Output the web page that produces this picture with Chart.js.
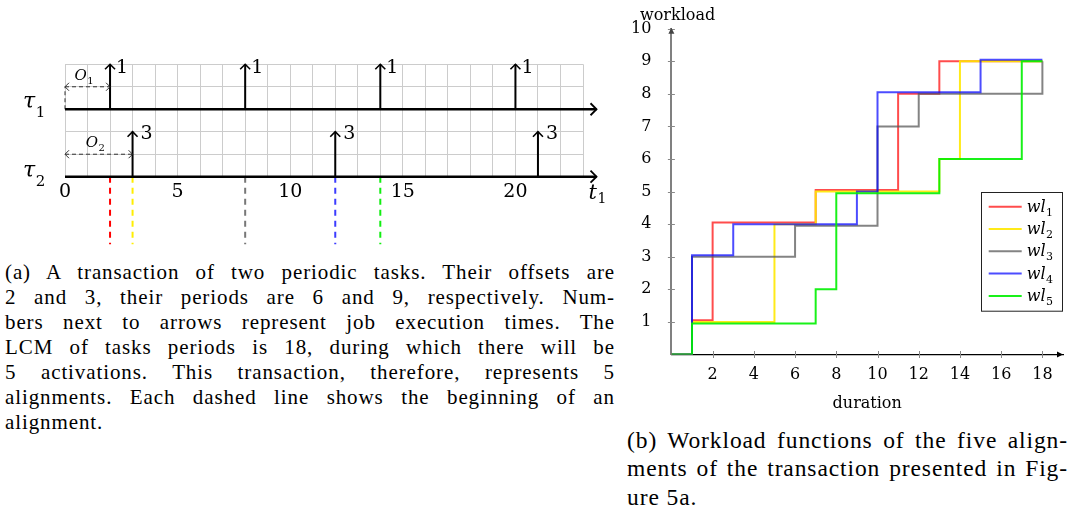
<!DOCTYPE html>
<html>
<head>
<meta charset="utf-8">
<script src="https://cdn.jsdelivr.net/npm/chart.js@4.4.0/dist/chart.umd.min.js"></script>
<style>
  html, body { margin: 0; padding: 0; background: #fff; }
  body { width: 1073px; height: 516px; position: relative; overflow: hidden; font-family: "Liberation Serif", serif; color: #000; }
  #taskCanvas { position: absolute; left: 0; top: 0; }
  #wlCanvas { position: absolute; left: 625px; top: 0; }
  .cap { position: absolute; letter-spacing: 0.9px; }
  .cap div { text-align: justify; text-align-last: justify; }
  .cap div.last { text-align-last: left; }
  #capA { left: 5px; top: 259.5px; width: 610px; font-size: 21px; line-height: 25px; }
  #capB { left: 627px; top: 425.5px; width: 441px; font-size: 23.5px; line-height: 28.5px; }
</style>
</head>
<body>
<canvas id="taskCanvas" width="625" height="255"></canvas>
<canvas id="wlCanvas" width="448" height="416"></canvas>

<div class="cap" id="capA">
  <div>(a) A transaction of two periodic tasks. Their offsets are</div>
  <div>2 and 3, their periods are 6 and 9, respectively. Num-</div>
  <div>bers next to arrows represent job execution times. The</div>
  <div>LCM of tasks periods is 18, during which there will be</div>
  <div>5 activations. This transaction, therefore, represents 5</div>
  <div>alignments. Each dashed line shows the beginning of an</div>
  <div class="last">alignment.</div>
</div>
<div class="cap" id="capB">
  <div>(b) Workload functions of the five align-</div>
  <div>ments of the transaction presented in Fig-</div>
  <div class="last">ure 5a.</div>
</div>

<script>
// ---- (a) the transaction ----
var tau1Release = [2, 8, 14, 20];
var tau1Exec = [1, 1, 1, 1];
var tau2Release = [3, 12, 21];
var tau2Exec = [3, 3, 3];
var taskOffsets = [2, 3];
var alignStart = [2, 3, 8, 12, 14];
var timeTicks = [0, 5, 10, 15, 20];

// ---- (b) workload step functions (x = where the step happens, y = new level) ----
var wl1X = [0, 1, 2, 7, 11, 13, 18];
var wl1Y = [0, 1.05, 4.05, 5.05, 8, 9, 9];
var wl2X = [0, 1, 5, 7, 13, 14, 18];
var wl2Y = [0, 1, 4, 5, 6, 9, 9];
var wl3X = [0, 1, 6, 10, 12, 18, 18];
var wl3Y = [0, 3, 3.95, 7, 8, 8, 9];
var wl4X = [0, 1, 3, 9, 10, 15, 18];
var wl4Y = [0, 3.05, 4, 5, 8.05, 9.05, 9.05];
var wl5X = [0, 1, 7, 8, 13, 17, 18];
var wl5Y = [0, 0.95, 2, 4.95, 6, 9, 9];
var wlSub = ['1', '2', '3', '4', '5'];
var durTicks = [2, 4, 6, 8, 10, 12, 14, 16, 18];
var loadTicks = [1, 2, 3, 4, 5, 6, 7, 8, 9, 10];

var SERIF = '"DejaVu Serif", serif';
var alignColors = ['#ff0000', '#ffee00', '#777777', '#3c3cff', '#11ee11'];
var wlColors = ['rgba(255,0,0,0.7)', 'rgba(255,232,0,0.9)', 'rgba(90,90,90,0.75)', 'rgba(0,0,255,0.7)', 'rgba(0,240,0,0.9)'];

// layout of the diagram, in axis units
var ROW1 = 3, ROW2 = 0, JOB_H = 2, AXIS_END = 23.6, ALIGN_END = -3;
var OFF_ROW = [4, 1];

function segments(list) {
  var out = [];
  list.forEach(function (p) {
    out.push({ x: p[0], y: p[1] }, { x: p[2], y: p[3] }, { x: null, y: null });
  });
  return out;
}

function chevron(ctx, x, y, dir, s) {
  ctx.beginPath();
  if (dir === 'up') { ctx.moveTo(x - s, y + s); ctx.lineTo(x, y); ctx.lineTo(x + s, y + s); }
  else if (dir === 'right') { ctx.moveTo(x - s, y - s); ctx.lineTo(x, y); ctx.lineTo(x - s, y + s); }
  else { ctx.moveTo(x + s, y - s); ctx.lineTo(x, y); ctx.lineTo(x + s, y + s); }
  ctx.stroke();
}

function subText(ctx, main, sub, x, y, size, drop) {
  ctx.font = 'italic ' + size + 'px ' + SERIF;
  ctx.fillText(main, x, y);
  var w = ctx.measureText(main).width;
  ctx.font = Math.round(size * 0.68) + 'px ' + SERIF;
  ctx.fillText(sub, x + w + 0.5, y + (drop == null ? size * 0.22 : drop));
}

var taskDecor = {
  id: 'taskDecor',
  afterDatasetsDraw: function (chart) {
    var ctx = chart.ctx, xs = chart.scales.x, ys = chart.scales.y;
    function px(v) { return xs.getPixelForValue(v); }
    function py(v) { return ys.getPixelForValue(v); }
    ctx.save();
    ctx.strokeStyle = '#000';
    ctx.fillStyle = '#000';
    ctx.lineWidth = 1.8;
    chevron(ctx, px(AXIS_END), py(ROW1), 'right', 6);
    chevron(ctx, px(AXIS_END), py(ROW2), 'right', 6);
    ctx.lineWidth = 1.6;
    tau1Release.forEach(function (t) { chevron(ctx, px(t), py(ROW1 + JOB_H), 'up', 5); });
    tau2Release.forEach(function (t) { chevron(ctx, px(t), py(ROW2 + JOB_H), 'up', 5); });
    ctx.lineWidth = 1;
    ctx.strokeStyle = '#333';
    taskOffsets.forEach(function (o, i) {
      chevron(ctx, px(0), py(OFF_ROW[i]), 'left', 4);
      chevron(ctx, px(o), py(OFF_ROW[i]), 'right', 4);
    });

    ctx.textAlign = 'left';
    ctx.textBaseline = 'alphabetic';
    ctx.font = '19px ' + SERIF;
    tau1Release.forEach(function (t, i) { ctx.fillText(String(tau1Exec[i]), px(t) + 6, py(ROW1 + JOB_H) + 8.5); });
    tau2Release.forEach(function (t, i) { ctx.fillText(String(tau2Exec[i]), px(t) + 8, py(ROW2 + JOB_H) + 7.5); });

    taskOffsets.forEach(function (o, i) {
      subText(ctx, 'O', String(i + 1), px(o / 2) - 13, py(OFF_ROW[i]) - 7, 15, 4);
    });

    subText(ctx, '\u03c4', '1', 23, py(ROW1) - 1, 22, 9);
    subText(ctx, '\u03c4', '2', 23, py(ROW2), 22, 9);
    subText(ctx, 't', '1', px(AXIS_END) - 8, py(ROW2) + 22, 21, 4);
    ctx.restore();
  }
};

function steps(xs, ys) { return xs.map(function (x, i) { return { x: x, y: ys[i] }; }); }

var wlDecor = {
  id: 'wlDecor',
  beforeDatasetsDraw: function (chart) {
    var ctx = chart.ctx, xs = chart.scales.x, ys = chart.scales.y;
    var x0 = xs.getPixelForValue(0), y0 = ys.getPixelForValue(0);
    ctx.save();
    ctx.strokeStyle = '#888';
    ctx.lineWidth = 1;
    loadTicks.forEach(function (v) {
      var y = Math.round(ys.getPixelForValue(v)) + 0.5;
      ctx.beginPath(); ctx.moveTo(x0 - 3.5, y); ctx.lineTo(x0 + 3.5, y); ctx.stroke();
    });
    durTicks.forEach(function (v) {
      var x = Math.round(xs.getPixelForValue(v)) + 0.5;
      ctx.beginPath(); ctx.moveTo(x, y0 - 3.5); ctx.lineTo(x, y0 + 3.5); ctx.stroke();
    });
    ctx.restore();
  },
  afterDraw: function (chart) {
    var ctx = chart.ctx, xs = chart.scales.x, ys = chart.scales.y, ca = chart.chartArea;
    var x0 = xs.getPixelForValue(0), y0 = ys.getPixelForValue(0);
    ctx.save();
    // arrow heads
    ctx.fillStyle = '#444';
    var ty = ys.getPixelForValue(10) - 1;
    ctx.beginPath(); ctx.moveTo(x0, ty); ctx.lineTo(x0 - 3, ty + 6); ctx.lineTo(x0 + 3, ty + 6); ctx.closePath(); ctx.fill();
    ctx.fillStyle = '#000';
    var tx = xs.getPixelForValue(19);
    ctx.beginPath(); ctx.moveTo(tx, y0); ctx.lineTo(tx - 6, y0 - 3); ctx.lineTo(tx - 6, y0 + 3); ctx.closePath(); ctx.fill();

    ctx.fillStyle = '#000';
    ctx.textAlign = 'left';
    ctx.textBaseline = 'alphabetic';
    ctx.font = '16px ' + SERIF;
    ctx.fillText('workload', 15, 19.5);

    // legend
    var bx = ca.right - 82.3, by = ca.top + 163.6, bw = 81, bh = 118.7;
    ctx.fillStyle = '#fff';
    ctx.fillRect(bx, by, bw, bh);
    ctx.strokeStyle = '#222';
    ctx.lineWidth = 1;
    ctx.strokeRect(Math.round(bx) + 0.5, Math.round(by) + 0.5, bw, bh);
    chart.data.datasets.forEach(function (d, i) {
      var ry = by + 14.4 + 22.3 * i;
      ctx.strokeStyle = d.borderColor;
      ctx.lineWidth = 2;
      ctx.beginPath(); ctx.moveTo(bx + 8, ry); ctx.lineTo(bx + 41, ry); ctx.stroke();
      ctx.fillStyle = '#000';
      subText(ctx, 'wl', wlSub[i], bx + 46, ry + 5, 16, 4);
    });
    ctx.restore();
  }
};

function build() {
  new Chart(document.getElementById('taskCanvas'), {
    type: 'line',
    data: {
      datasets: [
        { data: segments([[0, ROW1, AXIS_END, ROW1], [0, ROW2, AXIS_END, ROW2]]), borderColor: '#000', borderWidth: 2.4 },
        { data: segments(tau1Release.map(function (t) { return [t, ROW1, t, ROW1 + JOB_H]; })
            .concat(tau2Release.map(function (t) { return [t, ROW2, t, ROW2 + JOB_H]; }))), borderColor: '#000', borderWidth: 2 },
        { data: segments([[0, OFF_ROW[0], taskOffsets[0], OFF_ROW[0]], [0, OFF_ROW[1], taskOffsets[1], OFF_ROW[1]], [0, ROW1, 0, OFF_ROW[0]]]),
          borderColor: '#333', borderWidth: 1, borderDash: [4, 3] }
      ].concat(alignStart.map(function (t, i) {
        return { data: segments([[t, ROW2, t, ALIGN_END]]), borderColor: alignColors[i], borderWidth: 2, borderDash: [6, 5] };
      })).map(function (d) {
        d.pointRadius = 0; d.clip = false; d.tension = 0; d.spanGaps = false;
        return d;
      })
    },
    options: {
      responsive: false, animation: false, events: [],
      layout: { padding: { top: 64.3, right: 42, left: 0, bottom: 0 } },
      plugins: { legend: { display: false }, tooltip: { enabled: false } },
      scales: {
        x: {
          type: 'linear', min: 0, max: 23,
          afterFit: function (s) { s.height = 78.3; },
          ticks: { stepSize: 1, autoSkip: false, maxRotation: 0, padding: 4.4, color: '#000',
            font: { family: SERIF, size: 19 },
            callback: function (v) { return timeTicks.indexOf(v) >= 0 ? String(v) : ''; } },
          grid: { color: '#cccccc', lineWidth: 1, drawTicks: false },
          border: { display: false }
        },
        y: {
          type: 'linear', min: 0, max: 5,
          afterFit: function (s) { s.width = 65; },
          ticks: { display: false, stepSize: 1 },
          grid: { color: '#cccccc', lineWidth: 1, drawTicks: false },
          border: { display: false }
        }
      }
    },
    plugins: [taskDecor]
  });

  var wlSeries = [[wl1X, wl1Y], [wl2X, wl2Y], [wl3X, wl3Y], [wl4X, wl4Y], [wl5X, wl5Y]];
  new Chart(document.getElementById('wlCanvas'), {
    type: 'line',
    data: {
      datasets: wlSeries.map(function (s, i) {
        return { label: 'wl' + wlSub[i], data: steps(s[0], s[1]), stepped: true, borderColor: wlColors[i],
          borderWidth: 2, pointRadius: 0, order: wlSeries.length - i };
      })
    },
    options: {
      responsive: false, animation: false, events: [],
      layout: { padding: { top: 28.7, right: 10, left: 0, bottom: 0 } },
      plugins: { legend: { display: false }, tooltip: { enabled: false } },
      scales: {
        x: {
          type: 'linear', min: 0, max: 19,
          afterFit: function (s) { s.height = 61.5; },
          afterBuildTicks: function (s) { s.ticks = durTicks.map(function (v) { return { value: v }; }); },
          ticks: { padding: 3, maxRotation: 0, autoSkip: false, color: '#000', font: { family: SERIF, size: 16 } },
          grid: { display: false },
          border: { color: '#000', width: 1.2 },
          title: { display: true, text: 'duration', color: '#000', font: { family: SERIF, size: 16 }, padding: { top: 4, bottom: 3 } }
        },
        y: {
          type: 'linear', min: 0, max: 10,
          afterFit: function (s) { s.width = 46.4; },
          afterBuildTicks: function (s) { s.ticks = loadTicks.map(function (v) { return { value: v }; }); },
          ticks: { padding: 12, color: '#000', font: { family: SERIF, size: 16 } },
          grid: { display: false },
          border: { color: '#808080', width: 2 }
        }
      }
    },
    plugins: [wlDecor]
  });
}

Promise.all([
  document.fonts.load('16px "DejaVu Serif"'),
  document.fonts.load('italic 16px "DejaVu Serif"')
]).then(build, build);
</script>
</body>
</html>
